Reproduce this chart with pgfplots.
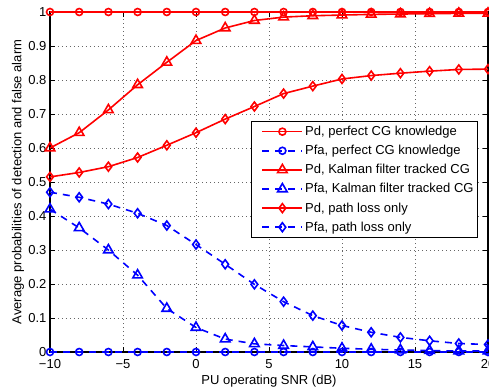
\documentclass[border=0pt]{standalone}
\usepackage{fontspec}
\setmainfont{Liberation Sans}
\usepackage{pgfplots}
\pgfplotsset{compat=1.18}
\newcommand{\fs}{\fontsize{13bp}{15.6bp}\selectfont}
\pgfplotsset{mylegend/.style={legend image code/.code={\path (-8bp,0bp); \draw[mark repeat=2,mark phase=2,##1] plot coordinates {(0bp,0bp)(20bp,0bp)(40bp,0bp)};}}}
\begin{document}
\begin{tikzpicture}[font=\fs]
\begin{axis}[
  scale only axis, width=438bp, height=340bp,
  xmin=-10, xmax=20, ymin=0, ymax=1,
  xtick={-10,-5,0,5,10,15,20},
  xticklabels={−10,−5,0,5,10,15,20},
  ytick={0,0.1,0.2,0.3,0.4,0.5,0.6,0.7,0.8,0.9,1},
  yticklabels={0,0.1,0.2,0.3,0.4,0.5,0.6,0.7,0.8,0.9,1},
  tick label style={font=\fs},
  xticklabel style={yshift=-4bp},
  label style={font=\fs},
  axis line style={line width=1.1bp},
  tick align=inside, major tick length=5bp,
  tick style={black, line width=0.8bp},
  grid=major,
  grid style={black!60, line width=0.5bp, dash pattern=on 1bp off 3bp},
  xlabel={PU operating SNR (dB)},
  ylabel={Average probabilities of detection and false alarm},
  xlabel style={at={(axis description cs:0.5,0)}, yshift=-29bp, anchor=center},
  ylabel style={at={(axis description cs:-0.073,0.5)}, anchor=center},
  every axis plot post/.append style={line width=1.6bp},
  legend style={font=\fs, at={(0.977,0.68)}, anchor=north east, draw=black, line width=0.8bp,
    nodes={inner sep=2bp}, inner xsep=2bp, inner ysep=3bp, row sep=4.2bp, cells={anchor=west}},
]
\addplot[red, solid, mark=o, mark size=3.5bp, mark options={solid}, mylegend] coordinates {
(-10,1)(-8,1)(-6,1)(-4,1)(-2,1)(0,1)(2,1)(4,1)(6,1)(8,1)(10,1)(12,1)(14,1)(16,1)(18,1)(20,1)};
\addlegendentry{Pd, perfect CG knowledge}
\addplot[blue, dash pattern=on 7bp off 6bp, mark=o, mark size=3.5bp, mark options={solid}, mylegend] coordinates {
(-10,0)(-8,0)(-6,0)(-4,0)(-2,0)(0,0)(2,0)(4,0)(6,0)(8,0)(10,0)(12,0)(14,0)(16,0)(18,0)(20,0)};
\addlegendentry{Pfa, perfect CG knowledge}
\addplot[red, solid, mark=triangle, mark size=5.5bp, mark options={solid}, mylegend] coordinates {
(-10,0.600)(-8,0.645)(-6,0.712)(-4,0.786)(-2,0.852)(0,0.916)(2,0.953)(4,0.975)(6,0.985)(8,0.989)(10,0.991)(12,0.993)(14,0.994)(16,0.995)(18,0.996)(20,0.996)};
\addlegendentry{Pd, Kalman filter tracked CG}
\addplot[blue, dash pattern=on 7bp off 6bp, mark=triangle, mark size=5.5bp, mark options={solid}, mylegend] coordinates {
(-10,0.420)(-8,0.365)(-6,0.300)(-4,0.226)(-2,0.128)(0,0.072)(2,0.038)(4,0.024)(6,0.019)(8,0.015)(10,0.011)(12,0.008)(14,0.006)(16,0.004)(18,0.003)(20,0.003)};
\addlegendentry{Pfa, Kalman filter tracked CG}
\addplot[red, solid, mark=diamond, mark size=4.5bp, mark options={solid}, mylegend] coordinates {
(-10,0.515)(-8,0.528)(-6,0.545)(-4,0.572)(-2,0.608)(0,0.645)(2,0.685)(4,0.722)(6,0.760)(8,0.782)(10,0.803)(12,0.813)(14,0.820)(16,0.826)(18,0.831)(20,0.832)};
\addlegendentry{Pd, path loss only}
\addplot[blue, dash pattern=on 7bp off 6bp, mark=diamond, mark size=4.5bp, mark options={solid}, mylegend] coordinates {
(-10,0.470)(-8,0.455)(-6,0.435)(-4,0.408)(-2,0.372)(0,0.316)(2,0.258)(4,0.199)(6,0.148)(8,0.107)(10,0.078)(12,0.058)(14,0.043)(16,0.033)(18,0.025)(20,0.022)};
\addlegendentry{Pfa, path loss only}
\end{axis}
\pgfresetboundingbox
\path (current axis.south west) ++(-50bp,-38bp) coordinate (bl);
\path (current axis.north east) ++(1bp,12bp) coordinate (tr);
\useasboundingbox (bl) rectangle (tr);
\end{tikzpicture}
\end{document}
